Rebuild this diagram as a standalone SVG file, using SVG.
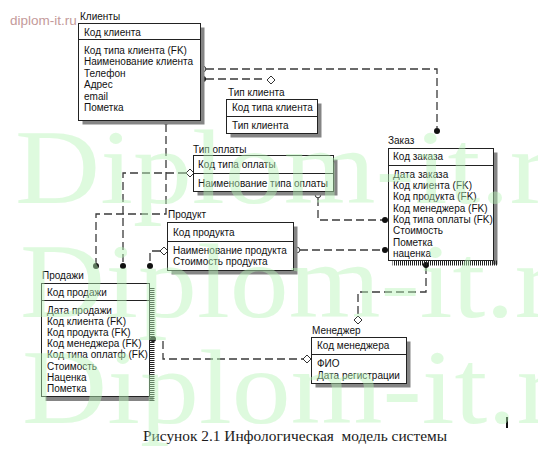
<svg xmlns="http://www.w3.org/2000/svg" width="538" height="460" viewBox="0 0 538 460">
<style>
.box{fill:#fff;stroke:#222;stroke-width:1}
.sh{fill:#858585}
.div{stroke:#222;stroke-width:1}
.t{font-family:"Liberation Sans",Arial,sans-serif;font-size:10px;fill:#111}
.conn{fill:none;stroke:#3a3a3a;stroke-width:1.3;stroke-dasharray:8 4}
.dot{fill:#111}
.hol{fill:#fff;stroke:#333;stroke-width:1}
.wm{font-family:"Liberation Serif","Times New Roman",serif;font-size:105px;fill:#b8f5b8;opacity:0.45}
.cap{font-family:"Liberation Serif","Times New Roman",serif;font-size:14px;fill:#1a1a1a;white-space:pre}
.site{font-family:"Liberation Sans",Arial,sans-serif;font-size:13.5px;fill:#c49a9a}
</style>
<defs>
<pattern id="hh" width="5" height="2" patternUnits="userSpaceOnUse"><rect width="5" height="1" fill="#222"/></pattern>
<pattern id="vh" width="2" height="5" patternUnits="userSpaceOnUse"><rect width="1" height="5" fill="#222"/></pattern>
</defs>
<rect width="538" height="460" fill="#fff"/>
<text class="site" x="10" y="24.5">diplom-it.ru</text>

<g id="connectors">
<path class="conn" d="M206,69 H437 V128"/>
<circle class="hol" cx="203" cy="69" r="2.8"/>
<circle class="dot" cx="437" cy="131" r="3"/>
<path class="conn" d="M206,79 H266"/>
<circle class="dot" cx="203" cy="79" r="3"/>
<polygon class="hol" points="271,76 275,80 271,84 267,80"/>
<path class="conn" d="M166,124 V214 H96 V263"/>
<circle class="hol" cx="166" cy="121.5" r="2.8"/>
<circle class="dot" cx="96" cy="266" r="3"/>
<path class="conn" d="M186,173 H123 V263"/>
<polygon class="hol" points="190,169 194,173 190,177 186,173"/>
<circle class="dot" cx="123" cy="266" r="3"/>
<path class="conn" d="M160,251 H150 V263"/>
<polygon class="hol" points="164,247 168,251 164,255 160,251"/>
<circle class="dot" cx="150" cy="266" r="3"/>
<path class="conn" d="M318,198 V220 H383"/>
<circle class="hol" cx="318" cy="195" r="2.8"/>
<circle class="dot" cx="385" cy="220" r="3"/>
<path class="conn" d="M300,250 H383"/>
<circle class="hol" cx="297" cy="250" r="2.8"/>
<circle class="dot" cx="385" cy="250" r="3"/>
<path class="conn" d="M426,266 V292 H358 V316"/>
<circle class="dot" cx="426" cy="265" r="3"/>
<polygon class="hol" points="358,316 362,320 358,324 354,320"/>
<path class="conn" d="M163,341 V359 H303"/>
<circle class="dot" cx="153" cy="339" r="3"/>
<polygon class="hol" points="307,355 311,359 307,363 303,359"/>
</g>

<g id="klienty">
<rect class="sh" x="82.5" y="27.5" width="122" height="97"/>
<rect class="box" x="78.5" y="23.5" width="122" height="97"/>
<line class="div" x1="78.5" y1="39.5" x2="200.5" y2="39.5"/>
<text class="t" x="80" y="19.5">Клиенты</text>
<text class="t" x="84" y="35.5">Код клиента</text>
<text class="t" x="84" y="54">Код типа клиента (FK)</text>
<text class="t" x="84" y="65.4">Наименование клиента</text>
<text class="t" x="84" y="76.8">Телефон</text>
<text class="t" x="84" y="88.2">Адрес</text>
<text class="t" x="84" y="99.6">email</text>
<text class="t" x="84" y="111">Пометка</text>
</g>

<g id="tip-klienta">
<rect class="sh" x="230.5" y="103.5" width="91" height="34"/>
<rect class="box" x="226.5" y="99.5" width="91" height="34"/>
<line class="div" x1="226.5" y1="116.5" x2="317.5" y2="116.5"/>
<text class="t" x="228" y="95.5">Тип клиента</text>
<text class="t" x="232" y="111.2">Код типа клиента</text>
<text class="t" x="232" y="128.5">Тип клиента</text>
</g>

<g id="tip-oplaty">
<rect class="sh" x="197.5" y="159.5" width="140" height="36"/>
<rect class="box" x="193.5" y="155.5" width="140" height="36"/>
<line class="div" x1="193.5" y1="173.5" x2="333.5" y2="173.5"/>
<text class="t" x="193" y="152.5">Тип оплаты</text>
<text class="t" x="198" y="167.5">Код типа оплаты</text>
<text class="t" x="198" y="186.5">Наименование типа оплаты</text>
</g>

<g id="zakaz">
<rect class="sh" x="492.5" y="152.5" width="5" height="112"/>
<rect x="392.5" y="260.5" width="105" height="5" fill="url(#vh)"/>
<rect class="box" x="388.5" y="148.5" width="105" height="112"/>
<line class="div" x1="388.5" y1="165.5" x2="493.5" y2="165.5"/>
<text class="t" x="388" y="143.5">Заказ</text>
<text class="t" x="393" y="160.2">Код заказа</text>
<text class="t" x="393" y="177.8">Дата заказа</text>
<text class="t" x="393" y="189.1">Код клиента (FK)</text>
<text class="t" x="393" y="200.4">Код продукта (FK)</text>
<text class="t" x="393" y="211.7">Код менеджера (FK)</text>
<text class="t" x="393" y="223">Код типа оплаты (FK)</text>
<text class="t" x="393" y="234.3">Стоимость</text>
<text class="t" x="393" y="245.6">Пометка</text>
<text class="t" x="393" y="256.9">наценка</text>
</g>

<g id="produkt">
<rect class="sh" x="171.5" y="226.5" width="126" height="48"/>
<rect class="box" x="167.5" y="222.5" width="126" height="48"/>
<line class="div" x1="167.5" y1="241.5" x2="293.5" y2="241.5"/>
<text class="t" x="168" y="217.5">Продукт</text>
<text class="t" x="173" y="236">Код продукта</text>
<text class="t" x="173" y="254">Наименование продукта</text>
<text class="t" x="173" y="265.3">Стоимость продукта</text>
</g>

<g id="prodazhi">
<rect class="sh" x="45.5" y="396.5" width="108" height="4.5"/>
<rect x="149.5" y="287.5" width="5" height="113.5" fill="url(#hh)"/>
<rect class="box" x="41.5" y="283.5" width="108" height="113"/>
<line class="div" x1="41.5" y1="300.5" x2="149.5" y2="300.5"/>
<text class="t" x="42" y="278.5">Продажи</text>
<text class="t" x="47" y="295.5">Код продажи</text>
<text class="t" x="47" y="313.5">Дата продажи</text>
<text class="t" x="47" y="324.7">Код клиента (FK)</text>
<text class="t" x="47" y="335.9">Код продукта (FK)</text>
<text class="t" x="47" y="347.1">Код менеджера (FK)</text>
<text class="t" x="47" y="358.3">Код типа оплатф (FK)</text>
<text class="t" x="47" y="369.5">Стоимость</text>
<text class="t" x="47" y="380.7">Наценка</text>
<text class="t" x="47" y="391.9">Пометка</text>
</g>

<g id="menedzher">
<rect class="sh" x="315.5" y="341.5" width="95" height="46"/>
<rect class="box" x="311.5" y="337.5" width="95" height="46"/>
<line class="div" x1="311.5" y1="354.5" x2="406.5" y2="354.5"/>
<text class="t" x="312" y="333.5">Менеджер</text>
<text class="t" x="317" y="349.2">Код менеджера</text>
<text class="t" x="317" y="366.8">ФИО</text>
<text class="t" x="317" y="378.5">Дата регистрации</text>
</g>

<text class="cap" x="143" y="441" textLength="304" lengthAdjust="spacingAndGlyphs">Рисунок 2.1 Инфологическая  модель системы</text>
<line x1="507" y1="417" x2="507" y2="428" stroke="#111" stroke-width="2"/>

<g id="watermark">
<text class="wm" x="15" y="203" textLength="593" lengthAdjust="spacingAndGlyphs">Diplom-it.ru</text>
<text class="wm" x="20" y="317" textLength="593" lengthAdjust="spacingAndGlyphs">Diplom-it.ru</text>
<text class="wm" x="22" y="423" textLength="593" lengthAdjust="spacingAndGlyphs">Diplom-it.ru</text>
</g>
</svg>
